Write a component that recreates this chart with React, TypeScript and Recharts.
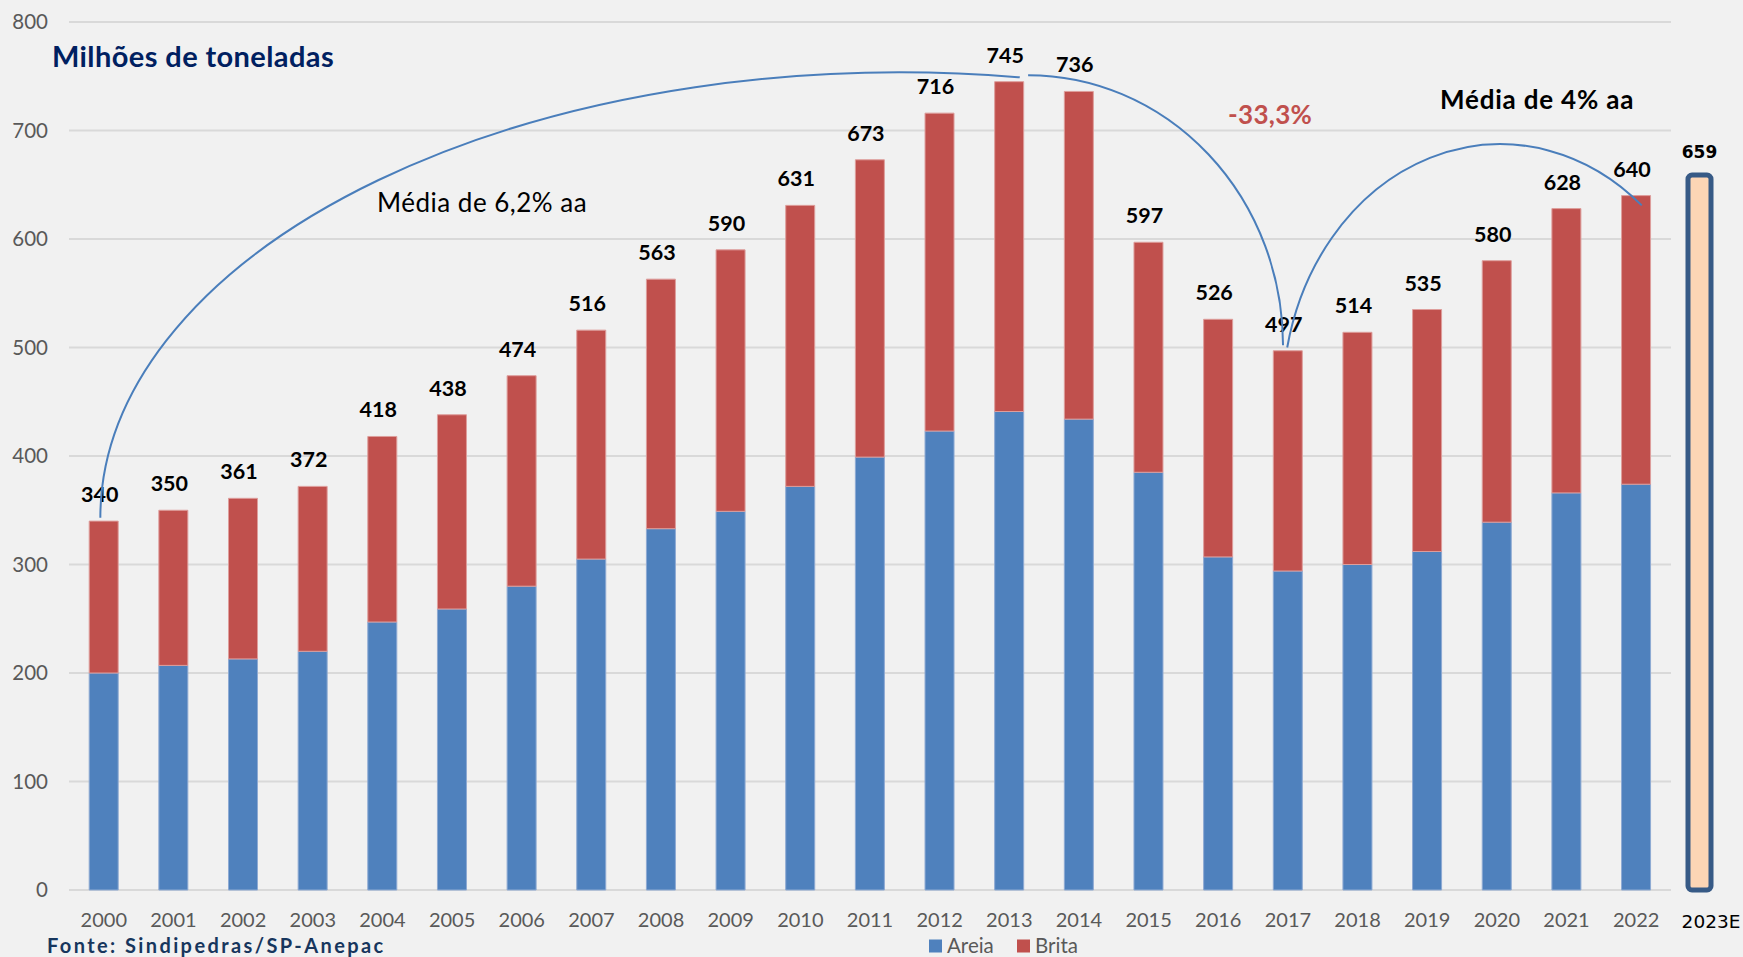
import { BarChart, Bar, XAxis, YAxis, CartesianGrid, LabelList } from 'recharts';

const YEARS = [
  '2000', '2001', '2002', '2003', '2004', '2005', '2006', '2007', '2008', '2009', '2010', '2011',
  '2012', '2013', '2014', '2015', '2016', '2017', '2018', '2019', '2020', '2021', '2022',
];
const AREIA = [200, 207, 213, 220, 247, 259, 280, 305, 333, 349, 372, 399, 423, 441, 434, 385, 307, 294, 300, 312, 339, 366, 374];
const BRITA = [140, 143, 148, 152, 171, 179, 194, 211, 230, 241, 259, 274, 293, 304, 302, 212, 219, 203, 214, 223, 241, 262, 266];
const TOTAL = [340, 350, 361, 372, 418, 438, 474, 516, 563, 590, 631, 673, 716, 745, 736, 597, 526, 497, 514, 535, 580, 628, 640];
const Y_TICKS = [0, 100, 200, 300, 400, 500, 600, 700, 800];

// estimativa 2023, desenhada à parte (fora da grade)
const EST_YEAR = ['2023E'];
const EST_VALUE = [659];

// arcos de anotação: [posição da categoria, valor]
const ARCS = [
  { start: [-0.05, 343], center: [11.43, 343], end: [13.15, 749] },
  { start: [13.27, 751], center: [13.27, 502], end: [16.93, 502] },
  { start: [16.99, 500], center: [20.05, 452], end: [22.08, 631] },
];

const W = 1743;
const H = 957;
const Y_MAX = 800;
const MARGIN = { top: 22, right: 72, bottom: 37, left: 0 };
const Y_AXIS_W = 69;
const X_AXIS_H = 30;
const PLOT_LEFT = MARGIN.left + Y_AXIS_W;
const PLOT_RIGHT = W - MARGIN.right;
const PLOT_TOP = MARGIN.top;
const PLOT_BOTTOM = H - MARGIN.bottom - X_AXIS_H;

const FONT = 'Lato, "Open Sans", sans-serif';
const BLUE = '#4F81BD';
const RED = '#C0504D';
const NAVY = '#002060';
const GREY_TEXT = '#595959';

const data = YEARS.map((year, i) => ({ year, areia: AREIA[i], brita: BRITA[i], total: TOTAL[i] }));
const estData = EST_YEAR.map((year, i) => ({ year, value: EST_VALUE[i] }));

const xAt = (pos: number) => PLOT_LEFT + (pos + 0.5) * (PLOT_RIGHT - PLOT_LEFT) / YEARS.length;
const yAt = (v: number) => PLOT_BOTTOM - (v / Y_MAX) * (PLOT_BOTTOM - PLOT_TOP);

// elipse alinhada aos eixos passando pelos dois pontos, com o centro dado
function arcPath(a: { start: number[]; center: number[]; end: number[] }) {
  const x1 = xAt(a.start[0]), y1 = yAt(a.start[1]);
  const x2 = xAt(a.end[0]), y2 = yAt(a.end[1]);
  const cx = xAt(a.center[0]), cy = yAt(a.center[1]);
  const dx1 = x1 - cx, dy1 = y1 - cy, dx2 = x2 - cx, dy2 = y2 - cy;
  const det = dx1 * dx1 * dy2 * dy2 - dx2 * dx2 * dy1 * dy1;
  const ia = (dy2 * dy2 - dy1 * dy1) / det;
  const ib = (dx1 * dx1 - dx2 * dx2) / det;
  const rx = 1 / Math.sqrt(ia);
  const ry = 1 / Math.sqrt(ib);
  return `M ${x1} ${y1} A ${rx} ${ry} 0 0 1 ${x2} ${y2}`;
}

const TotalLabel = (props: any) => {
  const { x, y, width, value } = props;
  return (
    <text x={x + width / 2 - 4} y={y - 19} textAnchor="middle" fontFamily={FONT} fontWeight={700} fontSize={21.5} fill="#000">
      {value}
    </text>
  );
};

const EstLabel = (props: any) => {
  const { x, y, width, value } = props;
  return (
    <text x={x + width / 2} y={y - 17} textAnchor="middle" fontFamily="DejaVu Sans" fontWeight={700} fontSize={17} fill="#000">
      {value}
    </text>
  );
};

const EstTick = (props: any) => {
  const { x, y, payload } = props;
  return (
    <text x={x + 12} y={y + 36} textAnchor="middle" fontFamily="DejaVu Sans" fontSize={18.5} fill="#000">
      {payload.value}
    </text>
  );
};

export default function App() {
  return (
    <div style={{ position: 'absolute', left: 0, top: 0, width: W, height: H, overflow: 'hidden', background: '#F1F1F1' }}>
      <BarChart width={W} height={H} data={data} margin={MARGIN} barCategoryGap="29%">
        <CartesianGrid vertical={false} stroke="#D9D9D9" strokeWidth={2} />
        <XAxis
          dataKey="year"
          height={X_AXIS_H}
          axisLine={false}
          tickLine={false}
          tickSize={0}
          tickMargin={23}
          interval={0}
          tick={{ fill: GREY_TEXT, fontSize: 20, fontFamily: FONT }}
        />
        <YAxis
          width={Y_AXIS_W}
          domain={[0, Y_MAX]}
          ticks={Y_TICKS}
          axisLine={false}
          tickLine={false}
          tickSize={0}
          tickMargin={21}
          tick={{ fill: GREY_TEXT, fontSize: 20.5, fontFamily: FONT }}
        />
        <Bar dataKey="areia" stackId="a" fill={BLUE} stroke="#8EAAD3" strokeWidth={1} isAnimationActive={false} />
        <Bar dataKey="brita" stackId="a" fill={RED} stroke="#DE9E9C" strokeWidth={1} isAnimationActive={false}>
          <LabelList dataKey="total" content={TotalLabel} />
        </Bar>
      </BarChart>

      <div style={{ position: 'absolute', left: PLOT_RIGHT - 22, top: 0 }}>
        <BarChart width={100} height={H} data={estData} margin={{ top: MARGIN.top, right: 20, bottom: MARGIN.bottom, left: 20 }}>
          <XAxis dataKey="year" height={X_AXIS_H} axisLine={false} tickLine={false} tickSize={0} tick={EstTick} />
          <YAxis hide domain={[0, Y_MAX]} />
          <Bar dataKey="value" fill="#FCD5B5" stroke="#375A86" strokeWidth={5} radius={4} barSize={23} isAnimationActive={false}>
            <LabelList dataKey="value" content={EstLabel} />
          </Bar>
        </BarChart>
      </div>

      <svg width={W} height={H} style={{ position: 'absolute', left: 0, top: 0, pointerEvents: 'none' }}>
        {ARCS.map((a, i) => (
          <path key={i} d={arcPath(a)} fill="none" stroke="#4A7EBB" strokeWidth={2} />
        ))}
        <text x={52} y={67} fontFamily={FONT} fontWeight={700} fontSize={29} letterSpacing={0.4} fill={NAVY}>
          Milhões de toneladas
        </text>
        <text x={377} y={212} fontFamily={FONT} fontSize={26} letterSpacing={0.5} fill="#000">
          Média de 6,2% aa
        </text>
        <text x={1228} y={124} fontFamily={FONT} fontWeight={700} fontSize={26} letterSpacing={0.3} fill={RED}>
          -33,3%
        </text>
        <text x={1440} y={109} fontFamily={FONT} fontWeight={700} fontSize={26} letterSpacing={0.8} fill="#000">
          Média de 4% aa
        </text>
        <text x={47} y={952.5} fontFamily={FONT} fontWeight={700} fontSize={20} letterSpacing={2.4} fill="#17365D">
          Fonte: Sindipedras/SP-Anepac
        </text>
        <rect x={929} y={939.5} width={13} height={13} fill={BLUE} />
        <text x={947} y={952.5} fontFamily={FONT} fontSize={20.5} fill={GREY_TEXT}>Areia</text>
        <rect x={1017} y={939.5} width={13} height={13} fill={RED} />
        <text x={1035} y={952.5} fontFamily={FONT} fontSize={20.5} fill={GREY_TEXT}>Brita</text>
      </svg>
    </div>
  );
}
